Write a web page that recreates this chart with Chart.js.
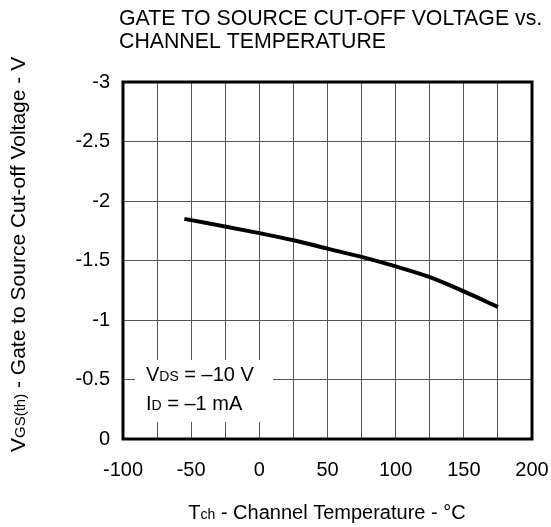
<!DOCTYPE html>
<html>
<head>
<meta charset="utf-8">
<script src="https://cdn.jsdelivr.net/npm/chart.js@4"></script>
<style>
  html, body { margin: 0; padding: 0; background: #fff; }
  #wrap { width: 551px; height: 527px; position: relative; }
</style>
</head>
<body>
<div id="wrap"><canvas id="myChart"></canvas></div>
<script>
// channel temperature (°C) and VGS(th) (V)
const temps = [-55, 0, 25, 50, 75, 100, 125, 150, 175];
const vgsOff = [-1.85, -1.73, -1.67, -1.60, -1.53, -1.45, -1.36, -1.24, -1.11];

const xTicks = [-100, -50, 0, 50, 100, 150, 200];
const yTicks = [-3, -2.5, -2, -1.5, -1, -0.5, 0];

const titleLines = ["GATE TO SOURCE CUT-OFF VOLTAGE vs.", "CHANNEL TEMPERATURE"];
const condLines = [["V", "DS", " = \u201310 V"], ["I", "D", " = \u20131 mA"]];

const FONT = "'Liberation Sans', Arial, sans-serif";

// draw "main + subscript + rest" starting at x, returns end x
function subText(ctx, x, y, main, sub, rest, size) {
  ctx.font = size + "px " + FONT;
  ctx.fillText(main, x, y);
  x += ctx.measureText(main).width;
  ctx.font = Math.round(size * 0.7) + "px " + FONT;
  ctx.fillText(sub, x, y);
  x += ctx.measureText(sub).width;
  ctx.font = size + "px " + FONT;
  ctx.fillText(rest, x, y);
  return x + ctx.measureText(rest).width;
}

function subWidth(ctx, main, sub, rest, size) {
  ctx.font = size + "px " + FONT;
  let w = ctx.measureText(main).width + ctx.measureText(rest).width;
  ctx.font = Math.round(size * 0.7) + "px " + FONT;
  return w + ctx.measureText(sub).width;
}

const decor = {
  id: "decor",
  afterDatasetsDraw(chart) {
    const ctx = chart.ctx;
    const a = chart.chartArea;
    ctx.save();
    // frame
    ctx.strokeStyle = "#000";
    ctx.lineWidth = 3;
    ctx.strokeRect(a.left, a.top, a.right - a.left, a.bottom - a.top);

    // condition box
    ctx.fillStyle = "#fff";
    ctx.fillRect(a.left + 12, a.bottom - 79, 138, 62);
    ctx.fillStyle = "#000";
    ctx.textBaseline = "alphabetic";
    ctx.textAlign = "left";
    subText(ctx, a.left + 23, a.bottom - 58, condLines[0][0], condLines[0][1], condLines[0][2], 20);
    subText(ctx, a.left + 23, a.bottom - 29, condLines[1][0], condLines[1][1], condLines[1][2], 20);

    // title
    ctx.font = "21.3px " + FONT;
    ctx.fillText(titleLines[0], 119, 25);
    ctx.fillText(titleLines[1], 119, 48);

    // x axis title
    const w = subWidth(ctx, "T", "ch", " - Channel Temperature - \u00b0C", 20);
    subText(ctx, 327 - w / 2, 519, "T", "ch", " - Channel Temperature - \u00b0C", 20);

    // y axis title
    ctx.translate(25, 452);
    ctx.rotate(-Math.PI / 2);
    subText(ctx, 0, 0, "V", "GS(th)", " - Gate to Source Cut-off Voltage - V", 21);
    ctx.restore();
  }
};

const myChart = new Chart("myChart", {
  type: "line",
  data: {
    datasets: [
      {
        data: temps.map((t, i) => ({ x: t, y: vgsOff[i] })),
        borderColor: "#000",
        borderWidth: 4,
        pointRadius: 0,
        cubicInterpolationMode: "monotone",
        fill: false,
      },
    ],
  },
  options: {
    responsive: true,
    maintainAspectRatio: false,
    animation: false,
    layout: { padding: { top: 82, right: 19, left: 0, bottom: 0 } },
    plugins: { legend: { display: false }, tooltip: { enabled: false } },
    scales: {
      x: {
        type: "linear",
        min: -100,
        max: 200,
        afterFit: (s) => { s.height = 88; s.paddingLeft = 0; s.paddingRight = 0; },
        ticks: {
          stepSize: 25,
          padding: 19,
          color: "#000",
          font: { family: FONT, size: 20 },
          callback: (v) => (xTicks.includes(v) ? String(v) : ""),
          maxRotation: 0,
          autoSkip: false,
        },
        grid: { color: "#555", lineWidth: 1, drawTicks: false },
        border: { display: false },
      },
      y: {
        min: -3,
        max: 0,
        reverse: true,
        afterFit: (s) => { s.width = 123; s.paddingTop = 0; s.paddingBottom = 0; },
        ticks: {
          stepSize: 0.5,
          padding: 13,
          color: "#000",
          font: { family: FONT, size: 20 },
          callback: (v) => (yTicks.includes(v) ? String(v) : ""),
        },
        grid: { color: "#555", lineWidth: 1, drawTicks: false },
        border: { display: false },
      },
    },
  },
  plugins: [decor],
});
</script>
</body>
</html>
